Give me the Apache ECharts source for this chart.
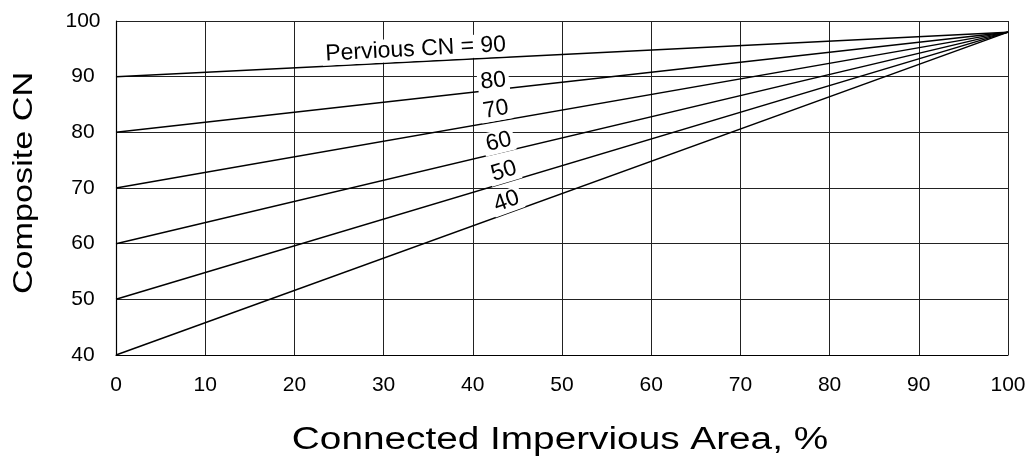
<!DOCTYPE html>
<html>
<head>
<meta charset="utf-8">
<script src="https://cdn.jsdelivr.net/npm/echarts@6/dist/echarts.min.js"></script>
<style>html,body{margin:0;padding:0;background:#fff;}#c{width:1031px;height:460px;}</style>
</head>
<body>
<div id="c"></div>
<script>
// Data
const perviousCN = [90, 80, 70, 60, 50, 40];
const imperviousCN = 98;
const xRange = [0, 100];
const labelTexts = ['Pervious CN = 90', '80', '70', '60', '50', '40'];
// label anchors (data coordinates)
const labelX = [33.6, 42.3, 42.6, 42.9, 43.5, 43.8];
const labelY = [94.9, 89.2, 84.1, 78.3, 73.0, 67.6];
const labelRotate = [3, 6.4, 10, 13.4, 16.8, 20];
const xTitle = 'Connected Impervious Area, %';
const yTitle = 'Composite CN';

const FONT = '"Liberation Sans", Arial, sans-serif';
const series = perviousCN.map(cn => ({
  type: 'line',
  data: [[xRange[0], cn], [xRange[1], imperviousCN]],
  symbol: 'none',
  lineStyle: { color: '#000', width: 1.5 },
  z: 3,
  silent: true
}));
series.push({
  type: 'scatter',
  symbolSize: 0,
  z: 5,
  itemStyle: { opacity: 1 },
  data: labelTexts.map((t, i) => ({
    name: t,
    value: [labelX[i], labelY[i]],
    label: { rotate: labelRotate[i] }
  })),
  label: {
    show: true,
    position: 'inside',
    formatter: p => p.name,
    color: '#000',
    opacity: 1,
    fontFamily: FONT,
    fontSize: 23,
    backgroundColor: '#fff',
    padding: [0, 3],
    align: 'center',
    verticalAlign: 'middle'
  }
});

const chart = echarts.init(document.getElementById('c'));
chart.setOption({
  backgroundColor: '#fff',
  animation: false,
  grid: { left: 116, right: 23, top: 21, bottom: 105 },
  graphic: [
    {
      type: 'text', x: 560, y: 440, scaleX: 1.25,
      style: { text: xTitle, fontFamily: FONT, fontSize: 31, fill: '#000', align: 'center', verticalAlign: 'middle' }
    },
    {
      type: 'text', x: 24, y: 183, rotation: Math.PI / 2, scaleX: 1.22,
      style: { text: yTitle, fontFamily: FONT, fontSize: 28, fill: '#000', align: 'center', verticalAlign: 'middle' }
    }
  ],
  xAxis: {
    type: 'value', min: 0, max: 100, interval: 10,
    axisLine: { show: true, lineStyle: { color: '#000', width: 1.2 } },
    axisTick: { show: false },
    axisLabel: { fontFamily: FONT, fontSize: 21, color: '#000', margin: 20 },
    splitLine: { show: true, lineStyle: { color: '#222', width: 1 } }
  },
  yAxis: {
    type: 'value', min: 40, max: 100, interval: 10,
    axisLine: { show: true, lineStyle: { color: '#000', width: 1.2 } },
    axisTick: { show: false },
    axisLabel: { fontFamily: FONT, fontSize: 21, color: '#000', margin: 33, align: 'center' },
    splitLine: { show: true, lineStyle: { color: '#222', width: 1 } }
  },
  series: series
});
</script>
</body>
</html>
